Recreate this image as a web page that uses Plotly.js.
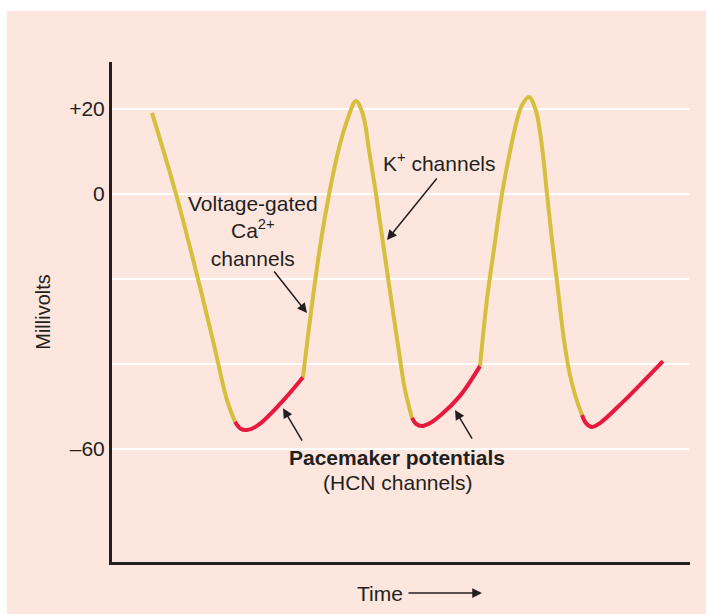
<!DOCTYPE html>
<html>
<head>
<meta charset="utf-8">
<script src="https://cdn.plot.ly/plotly-3.0.1.min.js"></script>
<style>
  html, body { margin: 0; padding: 0; background: #ffffff; }
  #chart { position: absolute; left: 7px; top: 11px; width: 699px; height: 603px; }
</style>
</head>
<body>
<div id="chart"></div>
<script>
// Time (arbitrary units) and membrane potential (mV)
const yellowT1 = [40, 64, 88, 102, 115, 123];
const yellowV1 = [19.1, 0, -21.9, -35.5, -48.5, -53.6];

const redT1 = [123, 129, 136, 146, 168, 191];
const redV1 = [-53.6, -55.3, -55.5, -54.4, -49.4, -43.1];

const yellowT2 = [191, 199, 208, 217, 227, 235, 244, 251, 257, 264, 272, 280, 287, 293, 300];
const yellowV2 = [-43.1, -27.8, -12.5, -0.2, 10.8, 17.2, 21.9, 18.6, 10.4, 0, -13.2, -26.1, -37.2, -46.1, -52.7];

const redT2 = [300, 304, 310, 318, 328, 348, 368];
const redV2 = [-52.7, -54.1, -54.6, -53.9, -52.2, -47.5, -40.5];

const yellowT3 = [368, 375, 382, 390, 399, 405, 410, 417, 424, 430, 435, 440, 446, 452, 458, 464, 470];
const yellowV3 = [-40.5, -24.7, -12.9, 0, 11.1, 17.4, 20.9, 22.8, 19.5, 11.1, 0, -10.8, -22.6, -34.4, -42.6, -48.0, -52.0];

const redT3 = [470, 474, 480, 488, 511, 551];
const redV3 = [-52.0, -53.9, -54.8, -53.9, -48.9, -39.3];

const yTickVals = [20, 0, -20, -40, -60];
const yTickText = ['+20', '0', '', '', '\u201360'];

const YELLOW = '#d5bf3d';
const RED = '#e8193e';
const INK = '#231f20';
const PEACH = '#fde6dd';
const FONT = 'Liberation Sans, Arial, Helvetica, sans-serif';

function seg(t, v, color) {
  return {
    x: t, y: v, type: 'scatter', mode: 'lines',
    line: { color: color, width: 4, shape: 'spline', smoothing: 1 },
    hoverinfo: 'skip', showlegend: false
  };
}

const traces = [
  seg(yellowT1, yellowV1, YELLOW),
  seg(yellowT2, yellowV2, YELLOW),
  seg(yellowT3, yellowV3, YELLOW),
  seg(redT1, redV1, RED),
  seg(redT2, redV2, RED),
  seg(redT3, redV3, RED)
];

function arrow(x, y, ax, ay) {
  return {
    x: x, y: y, ax: ax, ay: ay, xref: 'x', yref: 'y', axref: 'x', ayref: 'y',
    text: '', showarrow: true, arrowhead: 2, arrowsize: 1.3, arrowwidth: 1.5,
    arrowcolor: INK
  };
}
function label(x, y, text, extra) {
  return Object.assign({
    x: x, y: y, xref: 'x', yref: 'y', text: text, showarrow: false,
    font: { family: FONT, size: 21, color: INK }, xanchor: 'center', yanchor: 'middle'
  }, extra || {});
}

const layout = {
  width: 699, height: 603,
  margin: { l: 105, r: 16, t: 51, b: 52 },
  paper_bgcolor: PEACH,
  plot_bgcolor: PEACH,
  font: { family: FONT, size: 21, color: INK },
  showlegend: false,
  xaxis: {
    range: [0, 578],
    showgrid: false, zeroline: false, showticklabels: false, ticks: '',
    showline: true, linecolor: INK, linewidth: 3
  },
  yaxis: {
    range: [-86.59, 31.06],
    tickvals: yTickVals, ticktext: yTickText, ticks: '',
    ticklabelstandoff: 0,
    tickfont: { family: FONT, size: 21, color: INK },
    showgrid: true, gridcolor: '#ffffff', gridwidth: 2.5, zeroline: false,
    showline: true, linecolor: INK, linewidth: 3,
    title: { text: 'Millivolts', font: { family: FONT, size: 20, color: INK }, standoff: 14 }
  },
  annotations: [
    label(141, -8.7, 'Voltage-gated<br>Ca<sup>2+</sup><br>channels'),
    label(327, 7.5, 'K<sup>+</sup> channels'),
    label(285, -62.1, '<b>Pacemaker potentials</b>'),
    label(285, -68.0, '(HCN channels)'),
    arrow(195, -28.0, 161, -17.9),
    arrow(275, -10.8, 326, 4.0),
    arrow(171, -50.4, 191, -58.4),
    arrow(343, -50.8, 361, -57.9),
    {
      x: 370, y: -0.062, xref: 'x', yref: 'paper',
      ax: -102, ay: 0, text: 'Time', showarrow: true,
      font: { family: FONT, size: 21, color: INK },
      arrowhead: 2, arrowsize: 1.3, arrowwidth: 1.5, arrowcolor: INK, startstandoff: 4
    }
  ]
};

Plotly.newPlot('chart', traces, layout, { staticPlot: true, displayModeBar: false });
</script>
</body>
</html>
